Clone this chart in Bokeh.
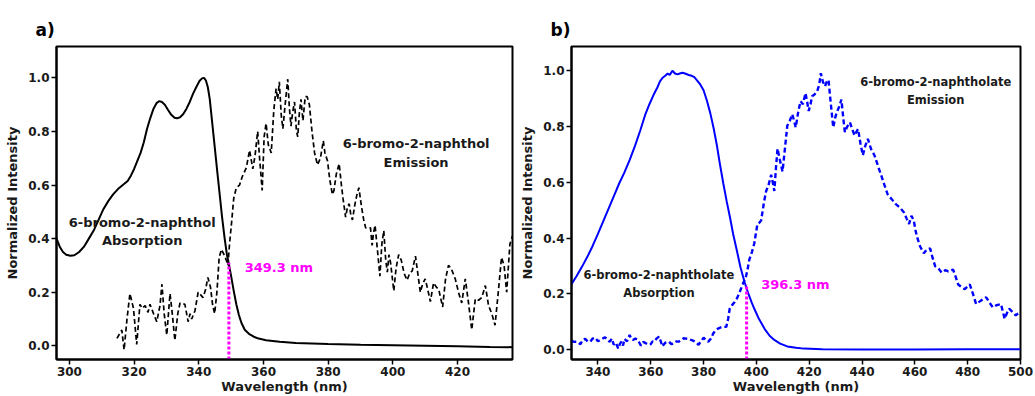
from bokeh.plotting import figure
from bokeh.layouts import row
from bokeh.models import Range1d, FixedTicker, PrintfTickFormatter, Label
from bokeh.embed import file_html
from bokeh.resources import INLINE

# ---------------- data: panel a (6-bromo-2-naphthol) ----------------
abs_a_x = [296, 297, 298, 299, 300.3, 301.5, 303, 304.5, 306, 307.5, 309, 310.5, 312, 313.5, 315,
           316.5, 318, 319, 320, 321, 322, 323, 324, 325, 326, 327, 327.8, 328.6, 329.5, 330.5,
           331.5, 332.5, 333.3, 334.2, 335.2, 336.2, 337.2, 338.2, 339.2, 340.2, 341, 341.6, 342.2,
           342.8, 343.4, 344, 344.6, 345.2, 345.8, 346.5, 347.2, 348, 348.7, 349.3, 350, 350.8,
           351.6, 352.4, 353.2, 354.2, 355.5, 357, 358.5, 360.8, 365, 370, 380, 390, 400, 410,
           420, 430, 437]
abs_a_y = [0.40, 0.37, 0.35, 0.34, 0.336, 0.338, 0.35, 0.37, 0.40, 0.43, 0.47, 0.51, 0.54, 0.565, 0.585,
           0.60, 0.615, 0.635, 0.66, 0.69, 0.72, 0.76, 0.81, 0.85, 0.885, 0.907, 0.913, 0.91, 0.90, 0.88,
           0.862, 0.851, 0.849, 0.853, 0.865, 0.885, 0.91, 0.94, 0.965, 0.988, 0.998, 1.0, 0.99,
           0.965, 0.92, 0.85, 0.78, 0.71, 0.64, 0.56, 0.48, 0.40, 0.34, 0.305, 0.26, 0.205,
           0.155, 0.115, 0.085, 0.06, 0.045, 0.034, 0.027, 0.021, 0.015, 0.011, 0.007, 0.004, 0.002, 0.0,
           -0.002, -0.004, -0.005]

em_a_x = [314.7, 315.5, 316.2, 316.9, 317.8, 318.7, 319.8, 320.8, 321.8, 322.5, 323.4, 324.3, 324.9,
          326.0, 327.0, 328.0, 328.6, 329.3, 330.1, 331.1, 331.8, 332.6, 333.5, 334.2, 335.7, 336.7,
          337.3, 337.8, 338.8, 339.8, 340.6, 341.3, 342.1, 342.8, 343.6, 344.3, 344.9, 345.6, 346.3,
          347.0, 347.8, 348.5, 349.0, 349.5, 350.1, 350.8, 351.6, 352.6, 353.4, 354.7, 355.7, 356.7,
          357.4, 358.2, 358.8, 359.6, 360.2, 360.8, 361.5, 362.4, 363.2, 363.9, 364.4, 364.9, 365.5,
          366.0, 366.7, 367.5, 368.0, 368.5, 369.0, 369.6, 370.2, 370.6, 371.1, 371.6, 372.2, 372.9,
          373.5, 374.2, 375.0, 375.8, 376.7, 377.6, 378.5, 379.0, 379.8, 380.5, 381.3, 381.8, 382.5,
          383.4, 384.1, 384.6, 385.4, 386.0, 386.5, 387.0, 387.5, 388.3, 389.0, 389.5, 390.3, 391.0,
          391.6, 392.4, 393.1, 393.6, 394.0, 394.5, 395.3, 396.0, 396.6, 397.2, 397.8, 398.3, 398.8,
          399.3, 400.3, 401.0, 401.8, 402.6, 403.5, 404.4, 405.2, 406.0, 407.0, 407.6, 408.5, 409.2,
          410.0, 410.8, 411.6, 412.6, 413.4, 414.2, 415.4, 416.3, 417.2, 418.0, 419.3, 420.3, 421.3,
          422.4, 423.4, 424.4, 425.5, 426.5, 427.5, 428.6, 429.6, 430.6, 431.6, 432.6, 433.6, 434.4,
          435.2, 436.2, 437.0]
em_a_y = [0.028, 0.045, 0.059, -0.015, 0.10, 0.195, 0.14, 0.005, 0.155, 0.14, 0.15, 0.125, 0.155,
          0.12, 0.09, 0.15, 0.23, 0.12, 0.04, 0.195, 0.12, 0.02, 0.12, 0.16, 0.155, 0.09,
          0.12, 0.10, 0.13, 0.20, 0.19, 0.18, 0.21, 0.255, 0.22, 0.15, 0.12, 0.20, 0.33,
          0.36, 0.34, 0.32, 0.30, 0.38, 0.455, 0.55, 0.59, 0.60, 0.63, 0.665, 0.73, 0.66,
          0.71, 0.80, 0.70, 0.58, 0.78, 0.83, 0.75, 0.72, 0.88, 0.96, 0.92, 0.985, 0.86,
          0.81, 0.90, 0.995, 0.89, 0.82, 0.87, 0.91, 0.80, 0.78, 0.87, 0.92, 0.84, 0.93,
          0.93, 0.90, 0.80, 0.72, 0.675, 0.70, 0.765, 0.72, 0.69, 0.62, 0.565, 0.58, 0.64,
          0.68, 0.60, 0.55, 0.48, 0.52, 0.53, 0.49, 0.47, 0.53, 0.57, 0.59, 0.52, 0.47,
          0.44, 0.44, 0.44, 0.375, 0.42, 0.45, 0.35, 0.26, 0.38, 0.43, 0.32, 0.275, 0.34,
          0.31, 0.205, 0.29, 0.34, 0.32, 0.27, 0.245, 0.27, 0.28, 0.335, 0.28, 0.20, 0.23,
          0.25, 0.21, 0.165, 0.235, 0.22, 0.21, 0.145, 0.25, 0.30, 0.29, 0.25, 0.20, 0.16,
          0.25, 0.16, 0.06, 0.175, 0.17, 0.18, 0.225, 0.15, 0.12, 0.077, 0.20, 0.33, 0.30,
          0.20, 0.38, 0.41]

# ---------------- data: panel b (6-bromo-2-naphtholate) ----------------
abs_b_x = [330, 332, 334, 336, 338, 340, 342, 344, 346, 348, 350, 352, 354, 356, 358, 359.5, 361,
           362.5, 363.5, 364.5, 365.5, 366.4, 367.2, 368.2, 369.2, 370.1, 371, 372, 373, 374.4,
           375.5, 376.5, 377.6, 378.8, 380, 381.2, 382.5, 383.8, 385, 386.2, 387.5, 388.8, 390,
           391.2, 392.5, 394, 395.6, 397, 398.2, 399.3, 401, 403.1, 405, 406.8, 409, 411.7, 415,
           418, 425, 440, 460, 480, 500]
abs_b_y = [0.235, 0.265, 0.298, 0.333, 0.372, 0.415, 0.46, 0.505, 0.55, 0.595, 0.635, 0.68, 0.73, 0.785,
           0.845, 0.88, 0.912, 0.94, 0.962, 0.975, 0.982, 0.99, 0.985, 1.0, 0.99, 0.987, 0.99, 0.993,
           0.99, 0.985, 0.982, 0.977, 0.965, 0.95, 0.93, 0.895, 0.85, 0.795, 0.735, 0.665, 0.595,
           0.53, 0.475, 0.415, 0.36, 0.295, 0.24, 0.2, 0.17, 0.145, 0.11, 0.075, 0.05, 0.035, 0.022,
           0.012, 0.007, 0.004, 0.002, 0.001, 0.001, 0.002, 0.002]

em_b_x = [330.0, 331.0, 332.1, 333.4, 334.2, 335.2, 336.1, 337.1, 338.0, 339.0, 340.0, 340.8, 341.8,
          342.7, 343.6, 344.5, 345.3, 346.0, 346.8, 347.7, 348.3, 348.9, 349.5, 350.1, 351.0, 352.0,
          352.6, 353.2, 354.2, 355.1, 355.7, 356.3, 357.2, 358.2, 359.1, 360.0, 360.7, 361.3, 362.2,
          363.1, 363.8, 364.4, 365.5, 366.9, 367.8, 368.8, 369.7, 370.6, 371.5, 372.5, 373.4, 374.3,
          375.3, 376.2, 377.2, 378.1, 379.0, 380.0, 380.9, 381.8, 382.8, 383.7, 384.6, 385.5, 386.5,
          387.4, 388.6, 389.3, 389.9, 390.8, 391.7, 392.7, 393.6, 394.8, 396.1, 396.7, 397.3, 398.3,
          399.2, 400.4, 401.1, 401.8, 402.9, 403.7, 404.6, 405.6, 406.2, 406.8, 407.4, 408.0, 408.9,
          409.9, 410.8, 411.7, 412.6, 413.6, 414.3, 414.9, 415.8, 416.7, 417.6, 418.6, 419.2, 419.8,
          420.5, 421.1, 422.0, 423.0, 423.8, 424.4, 425.2, 426.0, 426.6, 427.3, 428.2, 429.1, 429.8,
          430.4, 431.3, 432.2, 432.9, 433.5, 434.4, 435.4, 436.3, 437.2, 437.8, 438.5, 439.4, 440.3,
          441.2, 442.2, 443.4, 444.7, 446.0, 447.2, 448.5, 449.7, 451.2, 452.8, 454.3, 455.9, 456.9,
          457.8, 458.7, 459.6, 460.2, 460.8, 462.0, 463.4, 464.6, 465.8, 466.7, 467.7, 469.0, 470.2,
          471.5, 472.7, 473.6, 474.5, 475.5, 476.4, 477.6, 478.9, 479.8, 480.8, 482.0, 483.2, 485.0,
          487.0, 488.2, 489.5, 491.0, 492.6, 494.0, 494.8, 495.7, 497.0, 498.2, 499.1, 500.0]
em_b_y = [0.032, 0.028, 0.029, 0.02, 0.035, 0.039, 0.03, 0.029, 0.04, 0.043, 0.03, 0.035, 0.04,
          0.045, 0.035, 0.029, 0.04, 0.018, 0.025, 0.004, 0.02, 0.029, 0.015, 0.039, 0.03, 0.053,
          0.04, 0.035, 0.04, 0.035, 0.025, 0.015, 0.028, 0.023, 0.018, 0.02, 0.03, 0.029, 0.04,
          0.047, 0.03, 0.012, 0.025, 0.029, 0.02, 0.023, 0.03, 0.029, 0.035, 0.041, 0.04, 0.039,
          0.035, 0.032, 0.025, 0.018, 0.03, 0.043, 0.035, 0.029, 0.04, 0.059, 0.07, 0.076, 0.08,
          0.082, 0.082, 0.11, 0.147, 0.16, 0.17, 0.185, 0.205, 0.234, 0.264, 0.29, 0.322, 0.35,
          0.381, 0.451, 0.455, 0.463, 0.53, 0.569, 0.59, 0.627, 0.6, 0.569, 0.65, 0.721, 0.68,
          0.639, 0.72, 0.803, 0.82, 0.844, 0.82, 0.797, 0.85, 0.891, 0.88, 0.92, 0.89, 0.856,
          0.88, 0.909, 0.915, 0.926, 0.95, 0.991, 0.96, 0.944, 0.96, 0.967, 0.88, 0.797, 0.83,
          0.85, 0.87, 0.897, 0.83, 0.78, 0.8, 0.815, 0.79, 0.768, 0.78, 0.791, 0.74, 0.697,
          0.73, 0.756, 0.72, 0.697, 0.66, 0.627, 0.59, 0.557, 0.54, 0.522, 0.51, 0.492, 0.47,
          0.451, 0.48, 0.463, 0.43, 0.405, 0.37, 0.346, 0.36, 0.363, 0.33, 0.299, 0.29, 0.276,
          0.285, 0.281, 0.285, 0.287, 0.26, 0.234, 0.225, 0.217, 0.225, 0.234, 0.2, 0.164, 0.176,
          0.188, 0.17, 0.152, 0.16, 0.164, 0.111, 0.13, 0.147, 0.135, 0.123, 0.13, 0.135]

# crossing points
cross_a_x, cross_a_y = 349.3, 0.31
cross_b_x, cross_b_y = 396.3, 0.235

x_ticks_a = [300, 320, 340, 360, 380, 400, 420]
x_ticks_b = [340, 360, 380, 400, 420, 440, 460, 480, 500]
y_ticks = [0.0, 0.2, 0.4, 0.6, 0.8, 1.0]

FONT = "DejaVu Sans"
MAGENTA = "#ff00ff"
TXT = "#1a1a1a"


def style(p, xticks):
    p.grid.visible = False
    p.outline_line_color = "black"
    p.outline_line_width = 2
    p.title.text_font = FONT
    p.title.text_font_size = "17px"
    p.title.text_font_style = "bold"
    p.title.text_color = "black"
    p.title.align = "left"
    p.title.offset = -21
    p.title.standoff = 14
    for ax in (p.xaxis[0], p.yaxis[0]):
        ax.axis_line_width = 2
        ax.major_tick_line_width = 1.5
        ax.major_tick_out = 5
        ax.major_tick_in = 0
        ax.minor_tick_line_color = None
        ax.major_label_text_font = FONT
        ax.major_label_text_font_size = "12px"
        ax.major_label_text_font_style = "bold"
        ax.major_label_text_color = TXT
        ax.axis_label_text_font = FONT
        ax.axis_label_text_font_size = "13px"
        ax.axis_label_text_font_style = "bold"
        ax.axis_label_text_color = TXT
    p.xaxis[0].ticker = FixedTicker(ticks=xticks)
    p.yaxis[0].ticker = FixedTicker(ticks=y_ticks)
    p.yaxis[0].formatter = PrintfTickFormatter(format="%.1f")
    p.xaxis[0].major_label_standoff = 2
    p.xaxis[0].axis_label_standoff = 0
    p.yaxis[0].major_label_standoff = 2
    p.yaxis[0].axis_label_standoff = 5
    p.xaxis[0].axis_label = "Wavelength (nm)"
    p.yaxis[0].axis_label = "Normalized Intensity"


# ---------------- panel a ----------------
pa = figure(width=517, height=396, output_backend="svg", toolbar_location=None,
            x_range=Range1d(296, 437), y_range=Range1d(-0.051, 1.117),
            min_border_left=56, min_border_right=5, min_border_top=46, min_border_bottom=31,
            title="a)")
style(pa, x_ticks_a)
pa.line(abs_a_x, abs_a_y, line_color="black", line_width=2)
pa.line(em_a_x, em_a_y, line_color="black", line_width=1.7, line_dash="5 3")
pa.line([cross_a_x, cross_a_x], [-0.051, cross_a_y], line_color=MAGENTA, line_width=3, line_dash="3 2")
pa.add_layout(Label(x=322.5, y=0.427, text="6-bromo-2-naphthol\nAbsorption", text_align="center",
                    text_baseline="middle", text_font=FONT, text_font_size="13px",
                    text_font_style="bold", text_color=TXT, text_line_height=1.25))
pa.add_layout(Label(x=407.2, y=0.719, text="6-bromo-2-naphthol\nEmission", text_align="center",
                    text_baseline="middle", text_font=FONT, text_font_size="13px",
                    text_font_style="bold", text_color=TXT, text_line_height=1.25))
pa.add_layout(Label(x=354.2, y=0.294, text="349.3 nm", text_align="left",
                    text_baseline="middle", text_font=FONT, text_font_size="13px",
                    text_font_style="bold", text_color=MAGENTA))

# ---------------- panel b ----------------
pb = figure(width=518, height=396, output_backend="svg", toolbar_location=None,
            x_range=Range1d(330, 500), y_range=Range1d(-0.035, 1.087),
            min_border_left=46, min_border_right=15, min_border_top=46, min_border_bottom=31,
            title="b)")
style(pb, x_ticks_b)
pb.line(abs_b_x, abs_b_y, line_color="#0000ff", line_width=2)
pb.line(em_b_x, em_b_y, line_color="#0000ff", line_width=2.4, line_dash="5 3")
pb.line([cross_b_x, cross_b_x], [-0.035, cross_b_y], line_color=MAGENTA, line_width=3, line_dash="3 2")
pb.add_layout(Label(x=363.1, y=0.235, text="6-bromo-2-naphtholate\nAbsorption", text_align="center",
                    text_baseline="middle", text_font=FONT, text_font_size="11.5px",
                    text_font_style="bold", text_color=TXT, text_line_height=1.3))
pb.add_layout(Label(x=467.9, y=0.928, text="6-bromo-2-naphtholate\nEmission", text_align="center",
                    text_baseline="middle", text_font=FONT, text_font_size="11.5px",
                    text_font_style="bold", text_color=TXT, text_line_height=1.3))
pb.add_layout(Label(x=401.8, y=0.235, text="396.3 nm", text_align="left",
                    text_baseline="middle", text_font=FONT, text_font_size="13px",
                    text_font_style="bold", text_color=MAGENTA))

layout = row(pa, pb)
open("out.html", "w").write(file_html(layout, INLINE))
